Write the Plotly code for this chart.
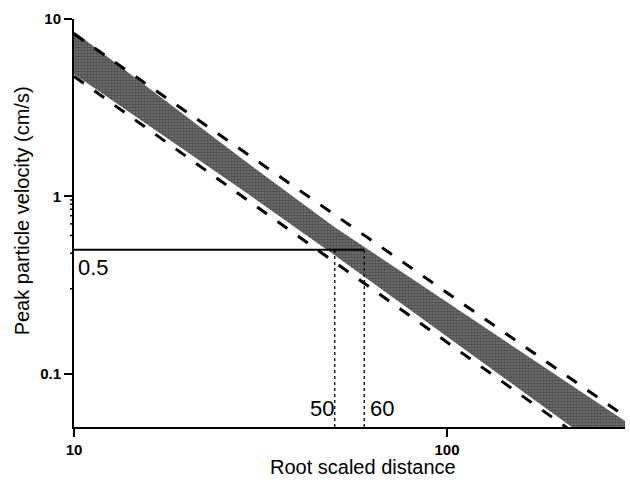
import numpy as np
import plotly.graph_objects as go

# ---- data ----
band_x = [10, 29.7, 50, 201, 300]
band_upper = [8.5, 1.5, 0.67, 0.095, 0.054]
band_lower_x = [10, 29.7, 50, 216, 300]
band_lower = [4.9, 1.01, 0.465, 0.05, 0.0304]

dash_x = [10, 300]
upper_dash = [8.25, 0.0575]
lower_dash = [4.75, 0.0289]

ppv_threshold = 0.5
rsd_marks = [50, 60]
x_min, x_max = 10, 300
y_min, y_max = 0.05, 10

x_major = [10, 100]
x_major_text = ["10", "100"]
x_minor = [20, 30, 40, 50, 60, 70, 80, 90, 200, 300]
y_major = [10, 1, 0.1]
y_major_text = ["10", "1", "0.1"]
y_minor = [0.05, 0.06, 0.07, 0.08, 0.09, 0.2, 0.3, 0.4, 0.5, 0.6, 0.7, 0.8, 0.9,
           2, 3, 4, 5, 6, 7, 8, 9]

FONT = "Liberation Sans, Arial, sans-serif"

fig = go.Figure()

# shaded band (polygon: upper edge forward, lower edge back)
poly_x = list(band_x) + list(band_lower_x[::-1])
poly_y = list(band_upper) + list(band_lower[::-1])
fig.add_trace(go.Scatter(x=poly_x, y=poly_y, mode="lines",
                         line=dict(color="rgba(0,0,0,0)", width=0),
                         fill="toself", fillcolor="#555555",
                         fillpattern=dict(shape=".", bgcolor="#777777", fgcolor="#222222",
                                          size=3, solidity=0.6),
                         showlegend=False, hoverinfo="skip"))

# dashed bounds
for yy in (upper_dash, lower_dash):
    fig.add_trace(go.Scatter(x=dash_x, y=yy, mode="lines",
                             line=dict(color="black", width=3, dash="12px,13px"),
                             showlegend=False, hoverinfo="skip"))

# threshold line
fig.add_trace(go.Scatter(x=[x_min, rsd_marks[1]], y=[ppv_threshold, ppv_threshold], mode="lines",
                         line=dict(color="black", width=2),
                         showlegend=False, hoverinfo="skip"))
for xv in rsd_marks:
    fig.add_trace(go.Scatter(x=[xv, xv], y=[y_min, ppv_threshold], mode="lines",
                             line=dict(color="black", width=1.3, dash="dot"),
                             showlegend=False, hoverinfo="skip"))

# labels
fig.add_annotation(x=np.log10(x_min), y=np.log10(ppv_threshold), text=str(ppv_threshold),
                   xanchor="left", yanchor="top", xshift=2, yshift=-3, showarrow=False,
                   font=dict(family=FONT, size=22, color="black"))
fig.add_annotation(x=np.log10(rsd_marks[0]), y=np.log10(y_min), text=str(rsd_marks[0]),
                   xanchor="right", yanchor="bottom", xshift=1, yshift=4, showarrow=False,
                   font=dict(family=FONT, size=22, color="black"))
fig.add_annotation(x=np.log10(rsd_marks[1]), y=np.log10(y_min), text=str(rsd_marks[1]),
                   xanchor="left", yanchor="bottom", xshift=4, yshift=4, showarrow=False,
                   font=dict(family=FONT, size=22, color="black"))

# axis titles
fig.add_annotation(x=0.5245, y=-0.098, xref="paper", yref="paper", text="Root scaled distance",
                   showarrow=False, xanchor="center", yanchor="middle",
                   font=dict(family=FONT, size=20, color="black"))
fig.add_annotation(x=-0.094, y=0.529, xref="paper", yref="paper",
                   text="Peak particle velocity (cm/s)", textangle=-90,
                   showarrow=False, xanchor="center", yanchor="middle",
                   font=dict(family=FONT, size=20, color="black"))

# minor ticks (outside), positioned from the minor tick value lists
for xv in x_minor:
    fig.add_shape(type="line", xref="x", yref="paper", ysizemode="pixel", yanchor=0,
                  x0=np.log10(xv), x1=np.log10(xv), y0=0, y1=-4,
                  line=dict(color="black", width=1.5), layer="above")
for yv in y_minor:
    fig.add_shape(type="line", yref="y", xref="paper", xsizemode="pixel", xanchor=0,
                  y0=np.log10(yv), y1=np.log10(yv), x0=0, x1=-4,
                  line=dict(color="black", width=1.5), layer="above")

xr = [np.log10(x_min), np.log10(x_max)]
yr = [np.log10(y_min), np.log10(y_max)]

fig.update_layout(
    xaxis=dict(type="log", range=xr,
               showline=True, linecolor="black", linewidth=2,
               showgrid=False, zeroline=False,
               tickmode="array", tickvals=x_major, ticktext=x_major_text,
               ticks="outside", ticklen=8, tickwidth=2, tickcolor="black",
               tickfont=dict(family=FONT, size=15, color="black", weight="bold")),
    yaxis=dict(type="log", range=yr,
               showline=True, linecolor="black", linewidth=2,
               showgrid=False, zeroline=False,
               tickmode="array", tickvals=y_major, ticktext=y_major_text,
               ticks="outside", ticklen=8, tickwidth=2, tickcolor="black",
               tickfont=dict(family=FONT, size=15, color="black", weight="bold")),
    width=630, height=488, margin=dict(l=74, r=5, t=19, b=61),
    paper_bgcolor="white", plot_bgcolor="white", showlegend=False,
)

fig.write_html("out.html")
